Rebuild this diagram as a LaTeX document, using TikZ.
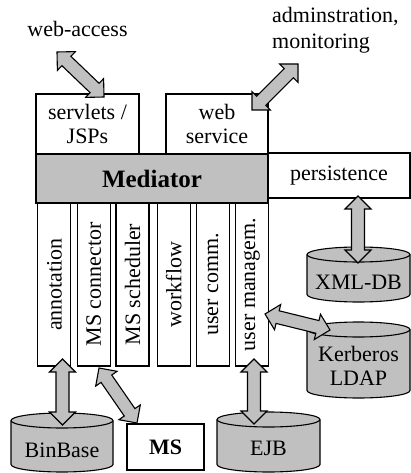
\documentclass[tikz,border=0pt]{standalone}
\usepackage{fontspec}
\setmainfont{Liberation Serif}
\usetikzlibrary{calc}
\definecolor{boxgray}{RGB}{192,192,192}
\tikzset{
  txt/.style={font=\fontsize{22}{24}\selectfont},
  plainbox/.style={draw, line width=1.1pt, fill=white, inner sep=0pt, txt, align=center},
  colbox/.style={plainbox, rotate=90, minimum width=163pt, minimum height=33pt},
  cylbody/.style={draw, line width=1.1pt, fill=boxgray},
  cylline/.style={draw, line width=1.1pt},
  dbl/.style={draw, line width=1.1pt, fill=boxgray, line join=miter}
}
\newcommand{\cylshape}[4]{%
  \pgfmathsetmacro\crx{(#2-#1)/2}%
  \filldraw[cylbody] (#1,#3+7.5) -- (#1,#4-7.5)
    arc[start angle=180,end angle=360,x radius=\crx pt,y radius=7.5pt]
    -- (#2,#3+7.5)
    arc[start angle=0,end angle=180,x radius=\crx pt,y radius=7.5pt] -- cycle;
  \draw[cylline] (#1,#3+7.5) arc[start angle=180,end angle=360,x radius=\crx pt,y radius=7.5pt];}
\newcommand{\dblarr}[2]{%
  \draw[dbl] let \p1=($(#2)-(#1)$), \n1={atan2(\y1,\x1)} in
    (#1) -- ($(#1)+(\n1:13pt)+({\n1+90}:13pt)$) -- ($(#1)+(\n1:13pt)+({\n1+90}:6.5pt)$)
    -- ($(#2)+(\n1:-13pt)+({\n1+90}:6.5pt)$) -- ($(#2)+(\n1:-13pt)+({\n1+90}:13pt)$)
    -- (#2) -- ($(#2)+(\n1:-13pt)+({\n1-90}:13pt)$) -- ($(#2)+(\n1:-13pt)+({\n1-90}:6.5pt)$)
    -- ($(#1)+(\n1:13pt)+({\n1-90}:6.5pt)$) -- ($(#1)+(\n1:13pt)+({\n1-90}:13pt)$) -- cycle;}
\begin{document}
\begin{tikzpicture}[x=1pt,y=-1pt]
\useasboundingbox (0,0) rectangle (411,473);
% top texts
\node[txt, anchor=base, inner sep=0pt] (webacc) at (77.5,37) {web-access};
\node[txt, anchor=west, align=left, inner sep=0pt, font=\fontsize{22}{26}\selectfont] (admin) at (272,30) {adminstration,\\monitoring};
% top boxes
\node[plainbox, minimum width=103pt, minimum height=60pt] (servlets) at (87.5,124) {servlets /\\JSPs};
\node[plainbox, minimum width=102pt, minimum height=60pt] (websvc) at (217,124) {web\\service};
\node[plainbox, fill=boxgray, minimum width=232pt, minimum height=49pt, font=\fontsize{25}{27}\selectfont\bfseries] (mediator) at (152,178.5) {Mediator};
\node[plainbox, minimum width=142pt, minimum height=45pt] (persist) at (339,175.5) {persistence};
% columns
\node[colbox] (c1) at (54.4,284.5) {annotation};
\node[colbox] (c2) at (93.7,284.5) {MS connector};
\node[colbox] (c3) at (132.5,284.5) {MS scheduler};
\node[colbox] (c4) at (173.7,284.5) {workflow};
\node[colbox] (c5) at (213,284.5) {user comm.};
\node[colbox] (c6) at (251.8,284.5) {user managem.};
% databases
\cylshape{307}{410}{247}{302}
\node[txt, inner sep=0pt] (xmldb) at (358.5,282) {XML-DB};
\cylshape{307}{410}{322}{398}
\node[txt, inner sep=0pt, align=center] (kerb) at (358.5,366) {Kerberos\\LDAP};
\cylshape{11}{113}{413}{472}
\node[txt, inner sep=0pt] (binbase) at (62,450) {BinBase};
\cylshape{217}{320}{412}{472}
\node[txt, inner sep=0pt] (ejb) at (268.5,448) {EJB};
\node[plainbox, minimum width=77pt, minimum height=46pt, font=\fontsize{22}{24}\selectfont\bfseries] (ms) at (165.5,447) {MS};
% arrow end points
\coordinate (a1s) at (57,52);   \coordinate (a1e) at (104,97);
\coordinate (a2s) at (252,110); \coordinate (a2e) at (298,64);
\coordinate (a3s) at (358,196); \coordinate (a3e) at (358,263);
\coordinate (a4s) at (265,314); \coordinate (a4e) at (330,330);
\coordinate (a5s) at (62.5,359); \coordinate (a5e) at (62.5,425);
\coordinate (a6s) at (99,368);  \coordinate (a6e) at (137,423);
\coordinate (a7s) at (254,359); \coordinate (a7e) at (254,424);
\dblarr{a1s}{a1e}
\dblarr{a2s}{a2e}
\dblarr{a3s}{a3e}
\dblarr{a4s}{a4e}
\dblarr{a5s}{a5e}
\dblarr{a6s}{a6e}
\dblarr{a7s}{a7e}
\end{tikzpicture}
\end{document}
